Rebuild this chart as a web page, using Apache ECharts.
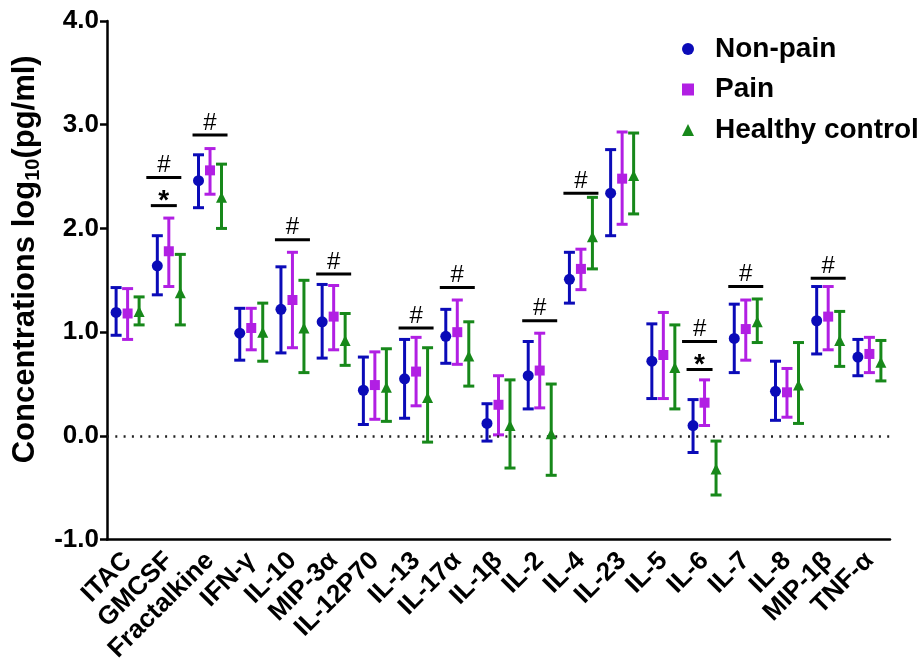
<!DOCTYPE html>
<html>
<head>
<meta charset="utf-8">
<script src="https://cdn.jsdelivr.net/npm/echarts@6/dist/echarts.min.js"></script>
<style>html,body{margin:0;padding:0;background:#fff}#c{width:922px;height:665px}</style>
</head>
<body>
<div id="c"></div>
<script>
const categories = ['ITAC','GMCSF','Fractalkine','IFN-γ','IL-10','MIP-3α','IL-12P70','IL-13','IL-17α','IL-1β','IL-2','IL-4','IL-23','IL-5','IL-6','IL-7','IL-8','MIP-1β','TNF-α'];

const nonPainMean = [1.19,1.64,2.46,0.99,1.22,1.10,0.44,0.55,0.96,0.12,0.58,1.51,2.34,0.72,0.10,0.94,0.43,1.11,0.76];
const nonPainLow  = [0.97,1.36,2.20,0.73,0.80,0.75,0.11,0.17,0.70,-0.05,0.26,1.28,1.93,0.36,-0.16,0.61,0.15,0.79,0.58];
const nonPainHigh = [1.43,1.93,2.71,1.23,1.63,1.46,0.76,0.93,1.22,0.31,0.91,1.77,2.76,1.08,0.35,1.27,0.72,1.44,0.93];

const painMean = [1.18,1.78,2.56,1.04,1.31,1.15,0.49,0.62,1.00,0.30,0.63,1.61,2.48,0.78,0.32,1.03,0.42,1.15,0.79];
const painLow  = [0.93,1.44,2.33,0.83,0.85,0.83,0.16,0.29,0.69,0.01,0.27,1.41,2.04,0.36,0.10,0.73,0.18,0.83,0.61];
const painHigh = [1.42,2.10,2.77,1.23,1.77,1.45,0.81,0.95,1.31,0.58,0.99,1.80,2.93,1.19,0.54,1.31,0.65,1.44,0.95];

const healthyMean = [1.20,1.38,2.30,1.00,1.04,0.92,0.47,0.37,0.77,0.10,0.02,1.92,2.51,0.66,-0.32,1.10,0.49,0.92,0.71];
const healthyLow  = [1.07,1.07,2.00,0.72,0.61,0.68,0.14,-0.06,0.48,-0.31,-0.38,1.61,2.14,0.26,-0.57,0.90,0.12,0.67,0.53];
const healthyHigh = [1.34,1.75,2.62,1.28,1.50,1.18,0.84,0.85,1.10,0.54,0.50,2.30,2.92,1.07,-0.05,1.32,0.90,1.20,0.92];

const hashCategories = ['GMCSF','Fractalkine','IL-10','MIP-3α','IL-13','IL-17α','IL-2','IL-4','IL-6','IL-7','MIP-1β'];
const hashLevels     = [2.49, 2.90, 1.89, 1.56, 1.04, 1.43, 1.11, 2.34, 0.91, 1.44, 1.52];
const starCategories = ['GMCSF','IL-6'];
const starLevels     = [2.22, 0.64];

const yTicks = [-1, 0, 1, 2, 3, 4];

const COLORS = { np: '#0b0bb8', p: '#b11fe3', h: '#17881a' };
const OFF = { np: -11.5, p: 0, h: 11.5 };
const FONT = "'Liberation Sans', Arial, Helvetica, sans-serif";

function errorSeries(name, low, high, color, offset) {
  return {
    type: 'custom',
    name: name + ' SD',
    silent: true,
    z: 2,
    data: low.map((l, i) => [i, l, high[i]]),
    encode: { x: 0, y: [1, 2] },
    renderItem(params, api) {
      const i = api.value(0);
      const pl = api.coord([i, api.value(1)]);
      const ph = api.coord([i, api.value(2)]);
      const x = pl[0] + offset;
      const hw = 5.5;
      const st = { stroke: color, lineWidth: 3 };
      return {
        type: 'group',
        children: [
          { type: 'line', shape: { x1: x, y1: ph[1], x2: x, y2: pl[1] }, style: st },
          { type: 'line', shape: { x1: x - hw, y1: ph[1], x2: x + hw, y2: ph[1] }, style: st },
          { type: 'line', shape: { x1: x - hw, y1: pl[1], x2: x + hw, y2: pl[1] }, style: st }
        ]
      };
    }
  };
}

function pointSeries(name, mean, color, symbol, size, offset, extra) {
  return Object.assign({
    type: 'scatter',
    name: name,
    symbol: symbol,
    symbolSize: size,
    symbolOffset: [offset, 0],
    z: 5,
    silent: true,
    itemStyle: { color: color, opacity: 1 },
    data: mean.map((v, i) => [i, v])
  }, extra || {});
}

const annData = [];
hashCategories.forEach((c, k) => annData.push([categories.indexOf(c), hashLevels[k], 0]));
starCategories.forEach((c, k) => annData.push([categories.indexOf(c), starLevels[k], 1]));

const annSeries = {
  type: 'custom',
  name: 'sig',
  silent: true,
  z: 6,
  data: annData,
  encode: { x: 0, y: 1 },
  renderItem(params, api) {
    const i = api.value(0);
    const kind = api.value(2);
    const p = api.coord([i, api.value(1)]);
    const hasStar = starCategories.indexOf(categories[i]) >= 0;
    const cx = p[0] + (hasStar ? -5 : 0);
    const hw = kind === 0 ? 17.5 : 13;
    return {
      type: 'group',
      children: [
        { type: 'line', shape: { x1: cx - hw, y1: p[1], x2: cx + hw, y2: p[1] }, style: { stroke: '#000', lineWidth: 3 } },
        { type: 'text', x: cx, y: kind === 0 ? p[1] - 12 : p[1] - 4,
          style: { text: kind === 0 ? '#' : '*', fill: '#000', align: 'center', verticalAlign: 'middle',
                   font: kind === 0 ? "24px " + FONT : "bold 28px " + FONT } }
      ]
    };
  }
};

const chart = echarts.init(document.getElementById('c'), null, { renderer: 'canvas' });
chart.setOption({
  animation: false,
  backgroundColor: '#fff',
  textStyle: { fontFamily: FONT },
  grid: { left: 107, right: 32, top: 21, bottom: 122, containLabel: false },
  legend: {
    data: ['Non-pain', 'Pain', 'Healthy control'],
    orient: 'vertical',
    left: 677,
    top: 29,
    itemWidth: 12,
    itemHeight: 12,
    itemGap: 10.5,
    selectedMode: false,
    textStyle: { fontFamily: FONT, fontSize: 28, fontWeight: 'bold', color: '#000', lineHeight: 30, padding: [0, 0, 0, 16] }
  },
  xAxis: {
    type: 'category',
    data: categories,
    boundaryGap: true,
    axisLine: { onZero: false, lineStyle: { color: '#000', width: 2.5 } },
    axisTick: { alignWithLabel: true, length: 7, lineStyle: { color: '#000', width: 2.5 } },
    axisLabel: { rotate: 45, margin: 17, interval: 0, color: '#000', fontFamily: FONT, fontSize: 26, fontWeight: 'bold' },
    splitLine: { show: false }
  },
  yAxis: {
    type: 'value',
    min: yTicks[0],
    max: yTicks[yTicks.length - 1],
    interval: 1,
    axisLine: { show: true, lineStyle: { color: '#000', width: 2.5 } },
    axisTick: { show: true, length: 7, lineStyle: { color: '#000', width: 2.5 } },
    axisLabel: { margin: 8, color: '#000', fontFamily: FONT, fontSize: 26, fontWeight: 'bold', formatter: v => v.toFixed(1) },
    splitLine: { show: false },
    name: '{m|Concentrations log}{s|10}{m|(pg/ml)}',
    nameLocation: 'middle',
    nameGap: 64,
    nameRotate: 90,
    nameTextStyle: {
      padding: [0, 0, 0, 42],
      rich: {
        m: { fontFamily: FONT, fontSize: 31, fontWeight: 'bold', color: '#000', lineHeight: 36 },
        s: { fontFamily: FONT, fontSize: 20, fontWeight: 'bold', color: '#000', lineHeight: 36, verticalAlign: 'bottom', padding: [11, 0, 0, 0] }
      }
    }
  },
  series: [
    errorSeries('Non-pain', nonPainLow, nonPainHigh, COLORS.np, OFF.np),
    errorSeries('Pain', painLow, painHigh, COLORS.p, OFF.p),
    errorSeries('Healthy control', healthyLow, healthyHigh, COLORS.h, OFF.h),
    pointSeries('Non-pain', nonPainMean, COLORS.np, 'circle', 11, OFF.np, {
      markLine: {
        silent: true, symbol: 'none', label: { show: false },
        lineStyle: { color: '#222', width: 2.5, type: [2, 6.3] },
        data: [{ yAxis: 0 }]
      }
    }),
    pointSeries('Pain', painMean, COLORS.p, 'rect', 10, OFF.p),
    pointSeries('Healthy control', healthyMean, COLORS.h, 'triangle', 11, OFF.h),
    annSeries
  ]
});
</script>
</body>
</html>
